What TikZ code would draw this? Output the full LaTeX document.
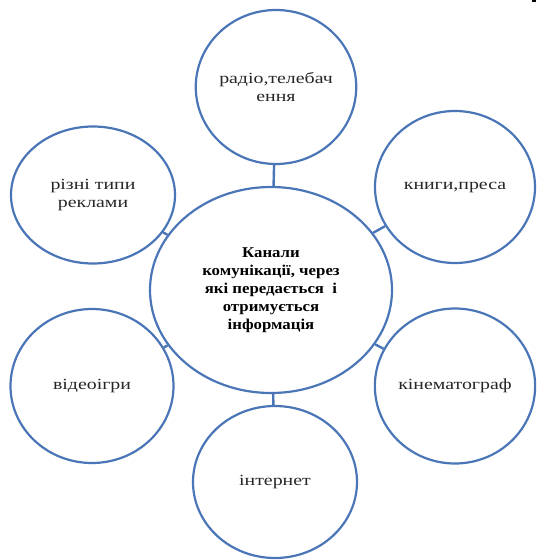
\documentclass[tikz,border=0pt]{standalone}
\usepackage{fontspec}
\setmainfont{Liberation Serif}[FakeStretch=1.28, BoldFeatures={FakeStretch=1.12}]
\usetikzlibrary{shapes.geometric}
\definecolor{ringblue}{HTML}{4A76B8}
\tikzset{
  ring/.style={ellipse, draw=ringblue, line width=2.2pt, fill=white, inner sep=0pt,
    align=center, font=\fontsize{15.5}{18}\selectfont, text=black!85},
  hub/.style={ring, font=\fontsize{15}{18}\selectfont\bfseries, text=black},
  link/.style={draw=ringblue, line width=2.4pt}
}
\begin{document}
\begin{tikzpicture}[x=1pt,y=-1pt]
\useasboundingbox (0,0) rectangle (536,560);
\node[hub, minimum width=242pt, minimum height=206pt] (c) at (271,290)
  {Канали\\комунікації, через\\які передається\ \ і\\отримується\\інформація};
\node[ring, minimum width=156pt, minimum height=154pt] (t) at (276,87) {радіо,телебач\\ення};
\node[ring, minimum width=164pt, minimum height=137pt] (lt) at (93,195) {різні типи\\реклами};
\node[ring, minimum width=160pt, minimum height=152pt] (rt) at (455,187) {книги,преса};
\node[ring, minimum width=163pt, minimum height=154pt] (lb) at (92,386) {відеоігри};
\node[ring, minimum width=160pt, minimum height=155pt] (rb) at (455,386) {кінематограф};
\node[ring, minimum width=164pt, minimum height=152pt] (b) at (275,482) {інтернет};
\foreach \n in {t,lt,rt,lb,rb,b} \draw[link] (c) -- (\n);
\fill[black] (532,0) rectangle (536,2);
\end{tikzpicture}
\end{document}
